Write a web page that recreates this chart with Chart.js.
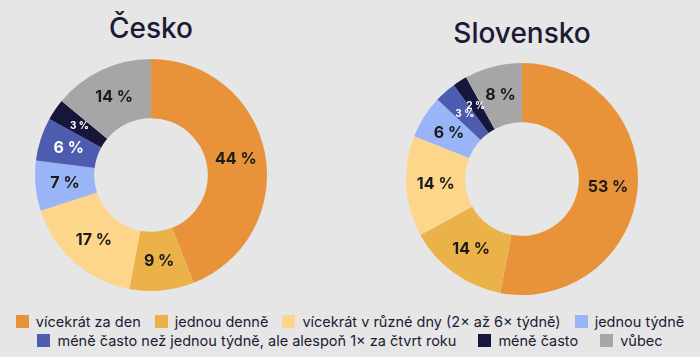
<!DOCTYPE html>
<html>
<head>
<meta charset="utf-8">
<script src="https://cdn.jsdelivr.net/npm/chart.js@4.4.1/dist/chart.umd.min.js"></script>
<style>
  html, body { margin: 0; padding: 0; }
  body { width: 700px; height: 357px; background: #e6e6e6; position: relative; overflow: hidden; font-family: Inter, "Open Sans", sans-serif; }
  .title { position: absolute; font-size: 28px; font-weight: 500; color: #1b1b35; transform: translateX(-50%); white-space: nowrap; line-height: 1; }
  .box { position: absolute; }
  #legend { position: absolute; left: 0; top: 312px; width: 700px; font-size: 14.5px; color: #1b1b35; }
  .row { display: flex; justify-content: center; align-items: center; height: 19px; }
  .item { display: flex; align-items: center; white-space: nowrap; }
  .sw { width: 13px; height: 13px; margin-right: 7px; }
</style>
</head>
<body>
<div class="title" style="left:151px; top:14px;">Česko</div>
<div class="title" style="left:522px; top:19px;">Slovensko</div>
<div class="box" style="left:35px; top:59px; width:232px; height:232px;"><canvas id="c1"></canvas></div>
<div class="box" style="left:406px; top:63px; width:232px; height:232px;"><canvas id="c2"></canvas></div>
<div id="legend"></div>
<script>
const categories = [
  "vícekrát za den",
  "jednou denně",
  "vícekrát v různé dny (2× až 6× týdně)",
  "jednou týdně",
  "méně často než jednou týdně, ale alespoň 1× za čtvrt roku",
  "méně často",
  "vůbec"
];
const ceskoValues = [44, 9, 17, 7, 6, 3, 14];
const slovenskoValues = [53, 14, 14, 6, 3, 2, 8];
const colors = ["#e8923a", "#ecb24a", "#fdd68c", "#99b4f7", "#4d5cae", "#15163a", "#a6a6a6"];
const labelColors = ["#1a1a1a", "#1a1a1a", "#1a1a1a", "#1a1a1a", "#ffffff", "#ffffff", "#1a1a1a"];

const labelPlugin = {
  id: 'sliceLabels',
  afterDatasetsDraw(chart) {
    const ctx = chart.ctx;
    const meta = chart.getDatasetMeta(0);
    const data = chart.data.datasets[0].data;
    ctx.save();
    ctx.textAlign = 'center';
    ctx.textBaseline = 'middle';
    meta.data.forEach((arc, i) => {
      const v = data[i];
      const p = arc.tooltipPosition();
      const size = v >= 5 ? 16 : 10;
      ctx.font = 'bold ' + size + 'px Inter, "Open Sans", sans-serif';
      ctx.fillStyle = labelColors[i];
      ctx.fillText(v + ' %', p.x, p.y);
    });
    ctx.restore();
  }
};

function makeChart(id, values) {
  return new Chart(document.getElementById(id), {
    type: 'doughnut',
    data: {
      labels: categories,
      datasets: [{
        data: values,
        backgroundColor: colors,
        borderWidth: 0,
        hoverOffset: 0
      }]
    },
    options: {
      responsive: true,
      maintainAspectRatio: false,
      animation: false,
      cutout: '49%',
      layout: { padding: 0 },
      plugins: { legend: { display: false }, tooltip: { enabled: false }, title: { display: false } }
    },
    plugins: [labelPlugin]
  });
}
makeChart('c1', ceskoValues);
makeChart('c2', slovenskoValues);

const rows = [[0, 1, 2, 3], [4, 5, 6]];
const rowGaps = [14, 22];
const legend = document.getElementById('legend');
rows.forEach((r, ri) => {
  const row = document.createElement('div');
  row.className = 'row';
  row.style.gap = rowGaps[ri] + 'px';
  r.forEach(i => {
    const it = document.createElement('div');
    it.className = 'item';
    const sw = document.createElement('span');
    sw.className = 'sw';
    sw.style.background = colors[i];
    const t = document.createElement('span');
    t.textContent = categories[i];
    it.appendChild(sw); it.appendChild(t);
    row.appendChild(it);
  });
  legend.appendChild(row);
});
</script>
</body>
</html>
